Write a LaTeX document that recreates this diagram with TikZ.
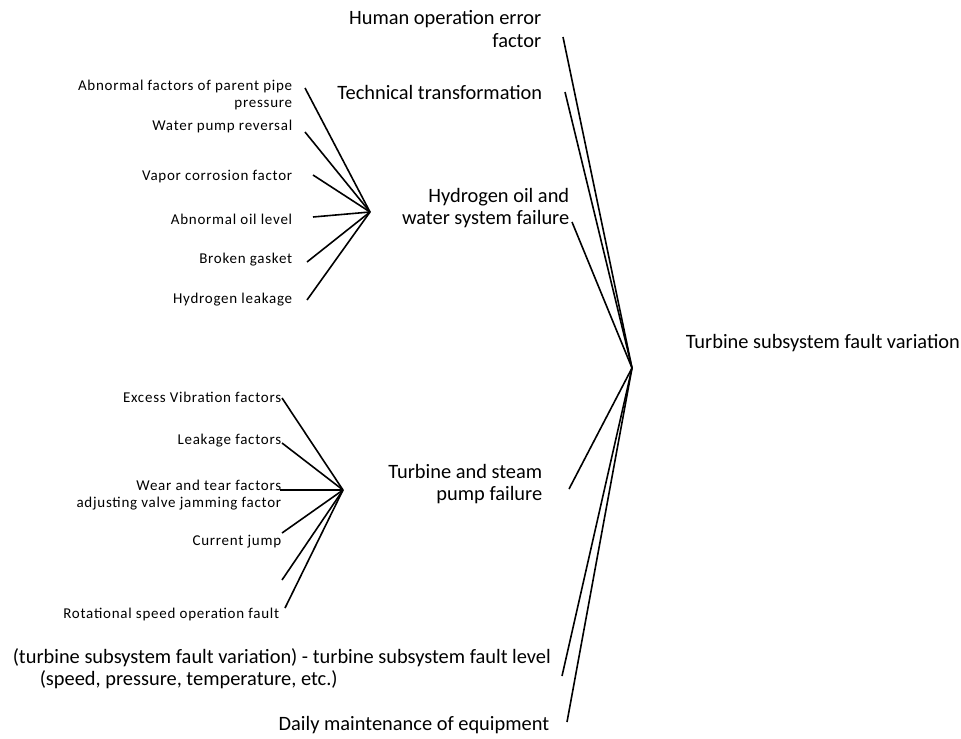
\documentclass[tikz,border=0pt]{standalone}
\usepackage{fontspec}
\setmainfont{Carlito}
\newfontfamily\causefont[LetterSpace=5]{Carlito}
\usetikzlibrary{positioning}

\begin{document}
\begin{tikzpicture}[x=0.5pt, y=-0.5pt, line width=0.8pt,
    factor/.style={font=\fontsize{10.2}{11}\selectfont, inner sep=0pt, align=right, anchor=base east},
    cause/.style={font=\causefont\fontsize{7.5}{8.5}\selectfont, inner sep=0pt, align=right, anchor=base east}]
  \useasboundingbox (0,0) rectangle (961,738);

  % hubs
  \coordinate (main) at (632,368);
  \coordinate (h1) at (370,212);
  \coordinate (h2) at (343,490);

  % main factors (base = last line)
  \node[factor] (human) at (542,47) {Human operation error\\factor};
  \node[factor] (tech) at (543,99) {Technical transformation};
  \node[factor] (hyd) at (570,224) {Hydrogen oil and\\water system failure};
  \node[factor] (steam) at (543,500) {Turbine and steam\\pump failure};
  \node[factor, align=left, anchor=base west] (level) at (12,685)
    {(turbine subsystem fault variation) - turbine subsystem fault level\\\hspace*{13.5pt}(speed, pressure, temperature, etc.)};
  \node[factor] (daily) at (550,730) {Daily maintenance of equipment};
  \node[factor, anchor=base west] (result) at (685,348) {Turbine subsystem fault variation};

  \coordinate (eHuman) at (563,37);
  \coordinate (eTech) at (565,92);
  \coordinate (eHyd) at (572,222);
  \coordinate (eSteam) at (569,489);
  \coordinate (eLevel) at (562,676);
  \coordinate (eDaily) at (567,722);
  \foreach \e in {eHuman,eTech,eHyd,eSteam,eLevel,eDaily}
    \draw (\e) -- (main);

  % hydrogen oil and water causes
  \node[cause] (pipe) at (293,107) {Abnormal factors of parent pipe\\pressure};
  \node[cause] (pump) at (293,130) {Water pump reversal};
  \node[cause] (vapor) at (293,180) {Vapor corrosion factor};
  \node[cause] (oil) at (293,224) {Abnormal oil level};
  \node[cause] (gasket) at (293,263) {Broken gasket};
  \node[cause] (leak) at (293,303) {Hydrogen leakage};

  \coordinate (ePipe) at (305,88);
  \coordinate (ePump) at (305,132);
  \coordinate (eVapor) at (313,175);
  \coordinate (eOil) at (313,217);
  \coordinate (eGasket) at (307,262);
  \coordinate (eLeak) at (307,300);
  \foreach \e in {ePipe,ePump,eVapor,eOil,eGasket,eLeak}
    \draw (\e) -- (h1);

  % turbine and steam pump causes
  \node[cause] (vib) at (282,402) {Excess Vibration factors};
  \node[cause] (leakage) at (282,444) {Leakage factors};
  \node[cause] (wear) at (282,507) {Wear and tear factors\\adjusting valve jamming factor};
  \node[cause] (jump) at (282,545) {Current jump};
  \node[cause] (speed) at (280,618) {Rotational speed operation fault};

  \coordinate (eVib) at (282,398);
  \coordinate (eLeakage) at (282,443);
  \coordinate (eWear) at (280,490);
  \coordinate (eJump) at (282,533);
  \coordinate (eBlank) at (282,580);
  \coordinate (eSpeed) at (285,608);
  \foreach \e in {eVib,eLeakage,eWear,eJump,eBlank,eSpeed}
    \draw (\e) -- (h2);
\end{tikzpicture}
\end{document}
